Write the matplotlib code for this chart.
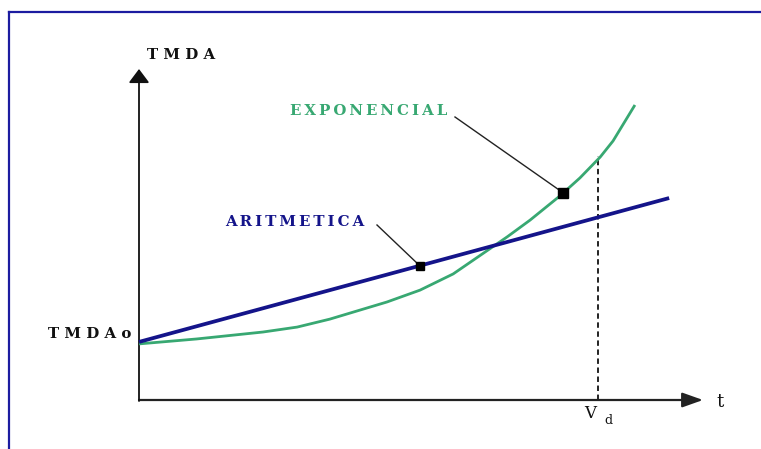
import matplotlib
matplotlib.use("Agg")
import matplotlib.pyplot as plt
from matplotlib.lines import Line2D

# ---- data (t, TMDA in arbitrary units) ----
t_exp = [0.0, 1.03, 2.21, 2.82, 3.40, 4.42, 5.01, 5.60, 6.20, 6.56, 6.97, 7.50, 7.86, 8.22, 8.45, 8.84]
v_exp = [1.70, 1.85, 2.06, 2.21, 2.45, 2.97, 3.33, 3.82, 4.52, 4.94, 5.45, 6.18, 6.73, 7.36, 7.85, 8.94]
t_ari = [0.0, 9.45]
v_ari = [1.76, 6.12]
t_vd = 8.18
v_vd = 7.38
mark_ari = (5.01, 4.06)
mark_exp = (7.56, 6.28)

labels = {"y": "TMDA", "y0": "TMDAo", "x": "t", "vd": "V", "vd_sub": "d",
          "exp": "EXPONENCIAL", "ari": "ARITMETICA"}

W, H = 761, 449
X0, Y0 = 139, 400      # pixel position of origin
SX, SY = 56.1, 33.0    # pixels per unit

fig = plt.figure(figsize=(W / 100, H / 100), dpi=100)
ax = fig.add_axes([0, 0, 1, 1])
ax.set_xlim(-X0 / SX, (W - X0) / SX)
ax.set_ylim(-(H - Y0) / SY, Y0 / SY)
ax.axis("off")


def P(x, y):
    return ((x - X0) / SX, (Y0 - y) / SY)


navy = "#14148a"
green = "#38a872"

# frame (top and left lines)
fig.add_artist(Line2D([8.5 / W, 1], [1 - 12 / H, 1 - 12 / H], color="#1c1ca0", lw=1.6))
fig.add_artist(Line2D([8.5 / W, 8.5 / W], [0, 1 - 12 / H], color="#1c1ca0", lw=1.6))

# axes with arrows
ax.annotate("", xy=P(703, 400), xytext=P(139, 400),
            arrowprops=dict(arrowstyle="-|>,head_length=0.9,head_width=0.32", mutation_scale=14,
                            color="#222222", lw=1.6, shrinkA=0, shrinkB=0))
ax.annotate("", xy=P(139, 69), xytext=P(139, 401),
            arrowprops=dict(arrowstyle="-|>,head_length=0.6,head_width=0.45", mutation_scale=14,
                            color="#111111", lw=1.3, shrinkA=0, shrinkB=0))

# curves
ax.plot(t_exp, v_exp, color=green, lw=2.0, solid_capstyle="butt", solid_joinstyle="round", zorder=3)
ax.plot(t_ari, v_ari, color=navy, lw=2.7, solid_capstyle="butt", zorder=4)

# dashed vertical line at Vd
ax.plot([t_vd, t_vd], [0, v_vd], color="#111111", lw=1.3, ls=(0, (3, 2)), zorder=2)

# markers and leaders
ax.plot([P(377, 225)[0], mark_ari[0]], [P(377, 225)[1], mark_ari[1]], color="#222222", lw=1.0, zorder=5)
ax.plot([P(455, 117)[0], mark_exp[0]], [P(455, 117)[1], mark_exp[1]], color="#222222", lw=1.0, zorder=5)
ax.plot(*mark_ari, marker="s", ms=6, color="black", zorder=6)
ax.plot(*mark_exp, marker="s", ms=6.5, color="black", zorder=6)

font = dict(family=["DejaVu Serif", "DejaVu Sans"], weight="bold", fontsize=10.8)


def spaced(s, sep=" "):
    return sep.join(s)


ax.text(*P(147, 55), spaced(labels["y"]), ha="left", va="center", color="#111111", **font)
ax.text(*P(131, 334), spaced(labels["y0"]), ha="right", va="center", color="#111111", **font)
ax.text(*P(290, 111), spaced(labels["exp"], "\u2009"), ha="left", va="center", color=green, **font)
ax.text(*P(225, 222), spaced(labels["ari"], "\u2009"), ha="left", va="center", color=navy, **font)
ax.text(*P(716, 402), labels["x"], ha="left", va="center", color="#111111",
        family="DejaVu Serif", fontsize=13)
ax.text(*P(590, 413), labels["vd"], ha="center", va="center", color="#111111",
        family="DejaVu Serif", fontsize=12)
ax.text(*P(608, 420), labels["vd_sub"], ha="center", va="center", color="#111111",
        family="DejaVu Serif", fontsize=9)

fig.savefig("out.png", dpi=100)
